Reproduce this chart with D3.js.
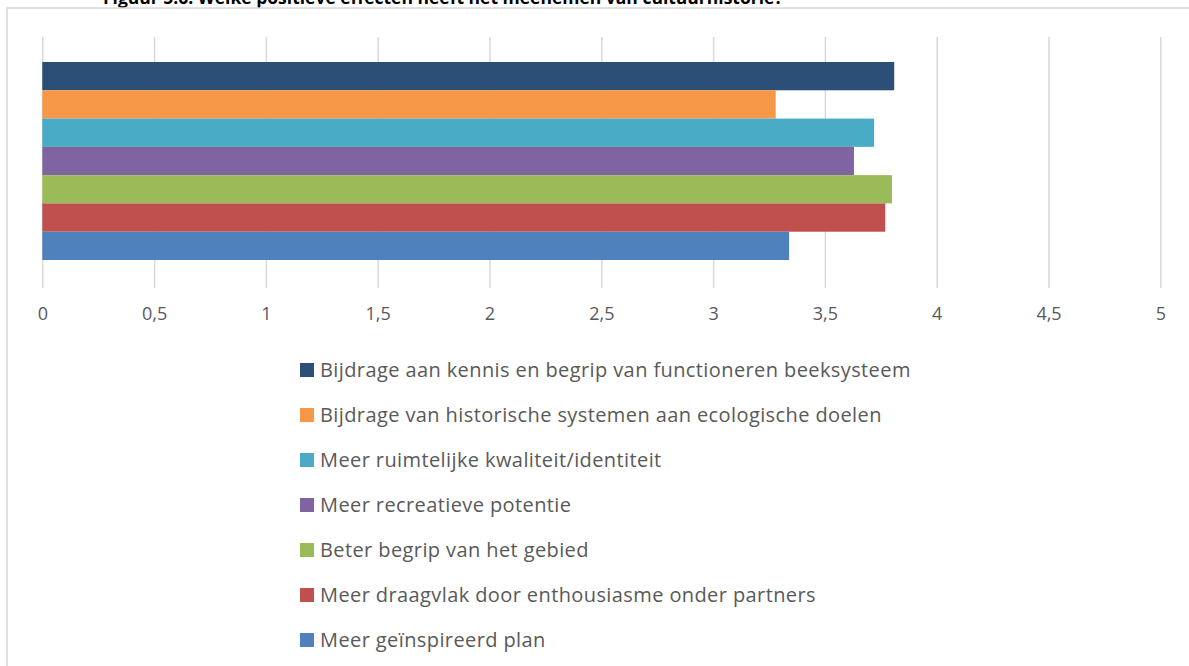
<html>
<head>
    <meta charset="utf-8"/>
    <script src="https://d3js.org/d3.v7.min.js"></script>
</head>
<style>
    body { margin: 0; background: #fff; }
    svg { font-family: "Open Sans", sans-serif; }
</style>
<body>
<svg class="main" width="1189" height="666"></svg>
</body>
<script>
    var title = "Figuur 5.6: Welke positieve effecten heeft het meenemen van cultuurhistorie?"
    var categories = [
        "Bijdrage aan kennis en begrip van functioneren beeksysteem",
        "Bijdrage van historische systemen aan ecologische doelen",
        "Meer ruimtelijke kwaliteit/identiteit",
        "Meer recreatieve potentie",
        "Beter begrip van het gebied",
        "Meer draagvlak door enthousiasme onder partners",
        "Meer geïnspireerd plan"
    ]
    var values = [3.81, 3.28, 3.72, 3.63, 3.80, 3.77, 3.34]
    var colors = ["#2c4f78", "#f79848", "#4aabc6", "#8064a2", "#9bbb59", "#c0504d", "#4f81bd"]
    var ticks = [0, 0.5, 1, 1.5, 2, 2.5, 3, 3.5, 4, 4.5, 5]

    var svg = d3.select("svg.main")

    // caption above the chart, cut off by the page edge like in the source
    svg.append("text")
        .attr("x", 103).attr("y", 4)
        .attr("font-weight", "bold")
        .attr("font-size", 17.5)
        .attr("fill", "#000")
        .text(title)

    // chart frame (runs off the page on the right and bottom)
    svg.append("rect")
        .attr("x", 7).attr("y", 8)
        .attr("width", 1300).attr("height", 800)
        .attr("fill", "none")
        .attr("stroke", "#d9d9d9")
        .attr("stroke-width", 1.5)

    var x = d3.scaleLinear().domain([0, 5]).range([42.3, 1160.3])
    var y = d3.scaleBand().domain(categories).range([62, 260]).padding(0)

    var axis = d3.axisBottom(x)
        .tickValues(ticks)
        .tickSize(-(288 - 37))
        .tickFormat(function (d) { return String(d).replace(".", ",") })

    var g = svg.append("g")
        .attr("transform", "translate(0,288)")
        .call(axis)
    g.select(".domain").remove()
    g.selectAll(".tick line")
        .attr("stroke", "#d9d9d9")
        .attr("stroke-width", 1.5)
    g.selectAll(".tick text")
        .attr("y", 19)
        .attr("fill", "#595959")
        .attr("font-size", 18)
        .attr("font-family", "'Open Sans', sans-serif")

    svg.selectAll("rect.bar")
        .data(values)
        .enter()
        .append("rect")
        .attr("class", "bar")
        .attr("x", x(0))
        .attr("y", function (d, i) { return y(categories[i]) })
        .attr("width", function (d) { return x(d) - x(0) })
        .attr("height", y.bandwidth())
        .attr("fill", function (d, i) { return colors[i] })

    var legend = svg.selectAll("g.legend")
        .data(categories)
        .enter()
        .append("g")
        .attr("class", "legend")
        .attr("transform", function (d, i) { return "translate(300," + (370 + i * 45) + ")" })
    legend.append("rect")
        .attr("x", 0).attr("y", -7)
        .attr("width", 14).attr("height", 14)
        .attr("fill", function (d, i) { return colors[i] })
    legend.append("text")
        .attr("x", 20).attr("y", 7)
        .attr("font-size", 20)
        .attr("letter-spacing", 0.4)
        .attr("fill", "#595959")
        .text(function (d) { return d })
</script>
</html>
